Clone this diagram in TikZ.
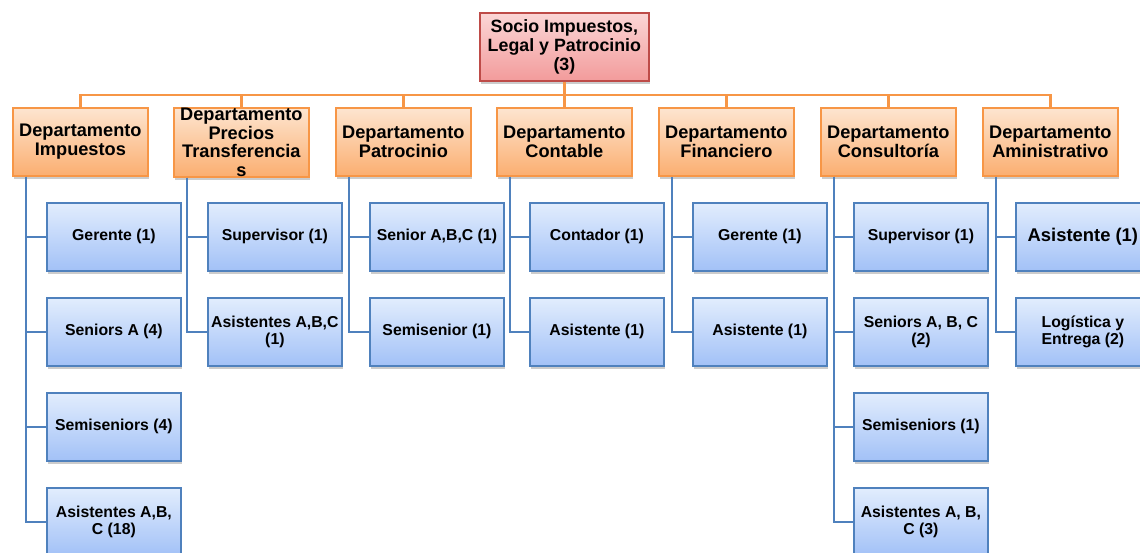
\documentclass[tikz,border=0pt]{standalone}
\usepackage{fontspec}
\setmainfont{Liberation Sans}
\usetikzlibrary{shadows}
\definecolor{topA}{HTML}{FBD6D6}
\definecolor{topB}{HTML}{F29B9B}
\definecolor{topE}{HTML}{BE4B48}
\definecolor{depA}{HTML}{FDE5D0}
\definecolor{depB}{HTML}{FBAE70}
\definecolor{depE}{HTML}{F79646}
\definecolor{chA}{HTML}{E2EDFD}
\definecolor{chB}{HTML}{A2C1F7}
\definecolor{chE}{HTML}{4F81BD}
\tikzset{
  boxbase/.style={rectangle, inner sep=0pt, align=center, line width=1.8pt,
    drop shadow={opacity=0.4, shadow xshift=1.5pt, shadow yshift=-3pt}},
  topbox/.style={boxbase, anchor=north west, minimum width=169pt, minimum height=68pt,
    draw=topE, top color=topA, bottom color=topB,
    font=\fontsize{17.8}{19}\selectfont\bfseries},
  depbox/.style={boxbase, anchor=north west, minimum width=135pt, minimum height=68pt,
    draw=depE, top color=depA, bottom color=depB,
    font=\fontsize{18.2}{18.7}\selectfont\bfseries},
  chbox/.style={boxbase, anchor=north west, minimum width=134pt, minimum height=68pt,
    draw=chE, top color=chA, bottom color=chB,
    font=\fontsize{15.8}{17}\selectfont\bfseries},
  bigch/.style={font=\fontsize{18.4}{19}\selectfont\bfseries},
  orgline/.style={draw=depE, line width=2.2pt},
  blueline/.style={draw=chE, line width=2.4pt},
}
\begin{document}
\begin{tikzpicture}[x=1pt,y=-1pt]
\useasboundingbox (0,0) rectangle (1140,553);
% top
\node[topbox] (top) at (479,12) {Socio Impuestos,\\Legal y Patrocinio\\(3)};
% departments
\node[depbox] (d1) at (12,107) {Departamento\\Impuestos};
\node[depbox] (d2) at (173,107) {Departamento\\Precios\\Transferencia\\s};
\node[depbox] (d3) at (335,107) {Departamento\\Patrocinio};
\node[depbox] (d4) at (496,107) {Departamento\\Contable};
\node[depbox] (d5) at (658,107) {Departamento\\Financiero};
\node[depbox] (d6) at (820,107) {Departamento\\Consultoría};
\node[depbox] (d7) at (982,107) {Departamento\\Aministrativo};
% children
\node[chbox] (c11) at (46,202) {Gerente (1)};
\node[chbox] (c12) at (46,297) {Seniors A (4)};
\node[chbox] (c13) at (46,392) {Semiseniors (4)};
\node[chbox] (c14) at (46,487) {Asistentes A,B,\\C (18)};
\node[chbox] (c21) at (207,202) {Supervisor (1)};
\node[chbox] (c22) at (207,297) {Asistentes A,B,C\\(1)};
\node[chbox] (c31) at (369,202) {Senior A,B,C (1)};
\node[chbox] (c32) at (369,297) {Semisenior (1)};
\node[chbox] (c41) at (529,202) {Contador (1)};
\node[chbox] (c42) at (529,297) {Asistente (1)};
\node[chbox] (c51) at (692,202) {Gerente (1)};
\node[chbox] (c52) at (692,297) {Asistente (1)};
\node[chbox] (c61) at (853,202) {Supervisor (1)};
\node[chbox] (c62) at (853,297) {Seniors A, B, C\\(2)};
\node[chbox] (c63) at (853,392) {Semiseniors (1)};
\node[chbox] (c64) at (853,487) {Asistentes A, B,\\C (3)};
\node[chbox,bigch] (c71) at (1015,202) {Asistente (1)};
\node[chbox] (c72) at (1015,297) {Logística y\\Entrega (2)};
% orange connectors
\foreach \d in {d1,d2,d3,d4,d5,d6,d7}{
  \draw[orgline] (top.south) -- ++(0,13) -| (\d.north);
}
% blue connectors
\foreach \d/\c in {d1/c11,d1/c12,d1/c13,d1/c14,d2/c21,d2/c22,d3/c31,d3/c32,
  d4/c41,d4/c42,d5/c51,d5/c52,d6/c61,d6/c62,d6/c63,d6/c64,d7/c71,d7/c72}{
  \draw[blueline] ([xshift=14pt]\d.south west) |- (\c.west);
}
\end{tikzpicture}
\end{document}
